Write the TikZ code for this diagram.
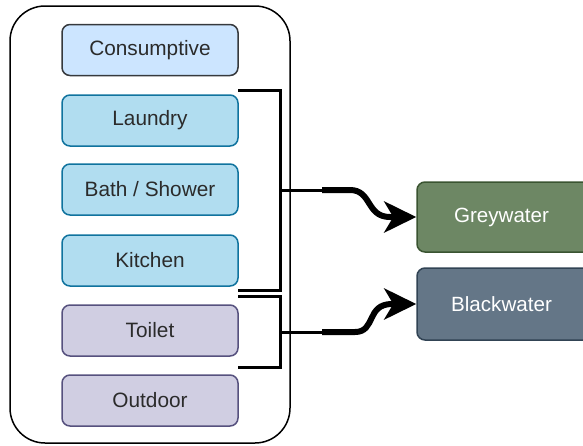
\documentclass[tikz,border=0pt]{standalone}
\usepackage{fontspec}
\setmainfont{Liberation Sans}
\usetikzlibrary{arrows.meta}
\definecolor{consfill}{HTML}{CCE5FF}
\definecolor{consdraw}{HTML}{36393D}
\definecolor{bluefill}{HTML}{B1DDF0}
\definecolor{bluedraw}{HTML}{10739E}
\definecolor{purfill}{HTML}{D0CEE2}
\definecolor{purdraw}{HTML}{56517E}
\definecolor{greenfill}{HTML}{6D8764}
\definecolor{greendraw}{HTML}{3A5431}
\definecolor{slatefill}{HTML}{647687}
\definecolor{slatedraw}{HTML}{314354}
\definecolor{txt}{HTML}{2B2B2B}
\begin{document}
\begin{tikzpicture}[x=1pt,y=-1pt,
  container/.style={draw=black, line width=1.5pt, rounded corners=35pt, minimum width=280pt, minimum height=437pt, inner sep=0pt},
  box/.style={rounded corners=8pt, line width=1.5pt, minimum width=176pt, minimum height=51pt, inner sep=0pt, text=txt, font=\fontsize{20.8}{24}\selectfont},
  outbox/.style={rounded corners=8pt, line width=1.5pt, minimum width=180pt, inner sep=0pt, text=white, font=\fontsize{20.6}{24}\selectfont},
  bracket/.style={draw=black, line width=3pt},
  bigarrow/.style={draw=black, line width=6pt, -{Stealth[length=32pt, width=31pt, inset=9pt]}}
]
\useasboundingbox (0,0) rectangle (583,445);
\node[container] (cont) at (150,224.5) {};
\node[box, fill=consfill, draw=consdraw] (cons) at (150,50) {Consumptive};
\node[box, fill=bluefill, draw=bluedraw] (laundry) at (150,120.5) {Laundry};
\node[box, fill=bluefill, draw=bluedraw] (bath) at (150,189.5) {Bath / Shower};
\node[box, fill=bluefill, draw=bluedraw] (kitchen) at (150,260.5) {Kitchen};
\node[box, fill=purfill, draw=purdraw] (toilet) at (150,330.5) {Toilet};
\node[box, fill=purfill, draw=purdraw] (outdoor) at (150,400.5) {Outdoor};
\node[outbox, fill=greenfill, draw=greendraw, minimum height=70pt] (grey) at (507,217) {\hspace*{-11pt}Greywater};
\node[outbox, fill=slatefill, draw=slatedraw, minimum height=72pt] (black) at (507,304) {\hspace*{-11pt}Blackwater};
% grey bracket
\coordinate (g1) at (238,90);
\coordinate (g2) at (238,290);
\coordinate (gm) at (280,190);
\coordinate (ge) at (322,190);
\draw[bracket] (g1) -- (280,90) -- (280,290) -- (g2);
\draw[bracket] (gm) -- (ge);
% black bracket
\coordinate (b1) at (238,296);
\coordinate (b2) at (238,367);
\coordinate (bm) at (280,332);
\coordinate (be) at (322,332);
\draw[bracket] (b1) -- (280,296) -- (280,367) -- (b2);
\draw[bracket] (bm) -- (be);
% thick arrows
\draw[bigarrow] (ge) -- (350,190) .. controls (372,190) and (366,217) .. (390,217) -- (grey.west);
\draw[bigarrow] (be) -- (355,332) .. controls (376,332) and (366,304) .. (392,304) -- (black.west);
\end{tikzpicture}
\end{document}
